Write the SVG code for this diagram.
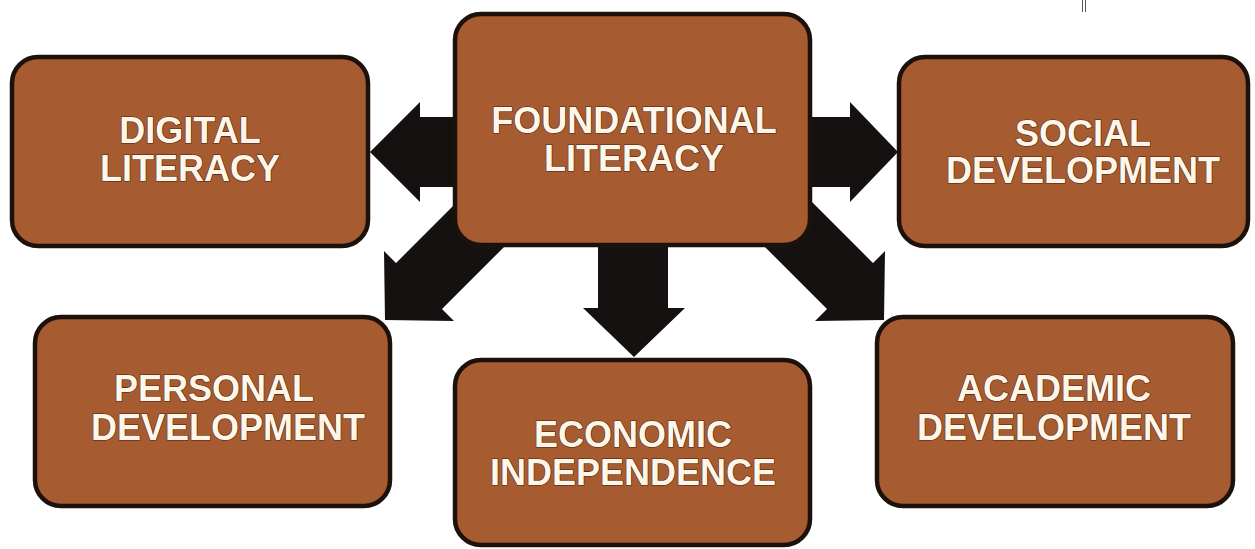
<svg xmlns="http://www.w3.org/2000/svg" width="1255" height="549" viewBox="0 0 1255 549">
<style>
.box{fill:#a65b30;stroke:#1c110b;stroke-width:4.5}
.arrow{fill:#161111}
.lbl{font-family:"Liberation Sans",Arial,sans-serif;font-weight:bold;font-size:36px;fill:#fff6e8;text-anchor:middle;stroke:#4a2210;stroke-width:1.2;paint-order:stroke}
</style>
<rect width="1255" height="549" fill="#ffffff"/>
<g id="mark" stroke="#555" stroke-width="1">
<line x1="1082.5" y1="0" x2="1082.5" y2="12"/>
<line x1="1085.5" y1="0" x2="1085.5" y2="12"/>
</g>
<g id="connectors">
<polygon class="arrow" points="470,117 420,117 420,102 370,152 420,202 420,187 470,187"/>
<polygon class="arrow" points="800,117 850,117 850,102 898,152 850,202 850,187 800,187"/>
<polygon class="arrow" points="598,240 668,240 668,308 685,308 634,357 583,308 598,308"/>
<polygon class="arrow" points="506,153 396,263 384,251 385,320 454,321 442,309 552,199"/>
<polygon class="arrow" points="763,153 873,263 885,251 884,320 815,321 827,309 717,199"/>
</g>
<g id="foundational">
<rect class="box" x="455" y="14" width="355" height="231" rx="26"/>
<text class="lbl" x="634" y="133">FOUNDATIONAL</text>
<text class="lbl" x="634" y="171">LITERACY</text>
</g>
<g id="digital">
<rect class="box" x="12" y="57" width="356" height="189" rx="26"/>
<text class="lbl" x="190" y="143">DIGITAL</text>
<text class="lbl" x="190" y="181">LITERACY</text>
</g>
<g id="social">
<rect class="box" x="899" y="57" width="349" height="189" rx="26"/>
<text class="lbl" x="1083" y="146">SOCIAL</text>
<text class="lbl" x="1083" y="183">DEVELOPMENT</text>
</g>
<g id="personal">
<rect class="box" x="35" y="317" width="355" height="189" rx="26"/>
<text class="lbl" x="214" y="401">PERSONAL</text>
<text class="lbl" x="228" y="440">DEVELOPMENT</text>
</g>
<g id="economic">
<rect class="box" x="455" y="360" width="355" height="185" rx="26"/>
<text class="lbl" x="633" y="447">ECONOMIC</text>
<text class="lbl" x="633" y="485">INDEPENDENCE</text>
</g>
<g id="academic">
<rect class="box" x="877" y="317" width="356" height="189" rx="26"/>
<text class="lbl" x="1054" y="401">ACADEMIC</text>
<text class="lbl" x="1054" y="440">DEVELOPMENT</text>
</g>
</svg>
